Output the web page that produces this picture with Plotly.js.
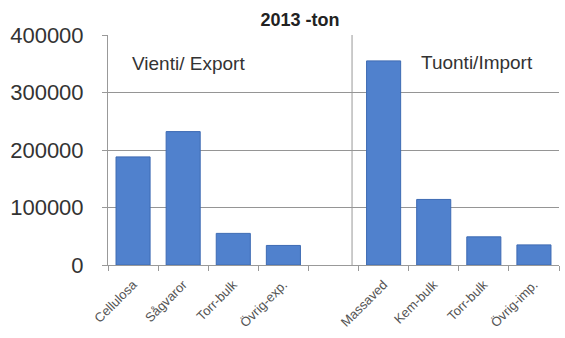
<!DOCTYPE html>
<html>
<head>
<meta charset="utf-8">
<script src="https://cdn.plot.ly/plotly-3.0.1.min.js"></script>
<style>html,body{margin:0;padding:0;background:#fff;}#chart{width:565px;height:338px;}</style>
</head>
<body>
<div id="chart"></div>
<script>
// Category ids (unique), display labels and values (tonnes, 2013)
const categories = ["Cellulosa", "Sågvaror", "Torr-bulk-exp", "Övrig-exp.", "gap", "Massaved", "Kem-bulk", "Torr-bulk-imp", "Övrig-imp."];
const tickLabels = ["Cellulosa", "Sågvaror", "Torr-bulk", "Övrig-exp.", "", "Massaved", "Kem-bulk", "Torr-bulk", "Övrig-imp."];
const tonnes = [188000, 232000, 55000, 34000, null, 355000, 114000, 49000, 35000];
const yTicks = [0, 100000, 200000, 300000, 400000];
const groupLabels = ["Vienti/ Export", "Tuonti/Import"];
const chartTitle = "2013 -ton";

const trace = {
  type: 'bar',
  x: categories,
  y: tonnes,
  marker: {color: '#5081cd', line: {color: '#3d6ab3', width: 1}},
  hoverinfo: 'x+y'
};

const layout = {
  width: 565, height: 338,
  margin: {l: 108, r: 6, t: 35, b: 73},
  paper_bgcolor: '#ffffff', plot_bgcolor: '#ffffff',
  showlegend: false,
  bargap: 0.32,
  font: {family: 'Arial, Liberation Sans, sans-serif', color: '#333'},
  title: {
    text: '<b>' + chartTitle + '</b>',
    xref: 'container', x: 300 / 565,
    yref: 'container', y: 1 - 20 / 338, yanchor: 'middle',
    font: {size: 18, color: '#222'}
  },
  xaxis: {
    type: 'category',
    tickmode: 'array', tickvals: categories, ticktext: tickLabels,
    tickangle: -45,
    tickson: 'boundaries',
    ticks: 'outside', ticklen: 5, tickcolor: '#999',
    showline: true, linecolor: '#999', linewidth: 1,
    showgrid: false,
    tickfont: {size: 13, color: '#555'},
    ticklabelstandoff: 6,
    fixedrange: true
  },
  yaxis: {
    range: [0, 400000],
    tickmode: 'array', tickvals: yTicks, ticktext: yTicks.map(String),
    ticks: 'outside', ticklen: 5, tickcolor: '#999',
    showline: true, linecolor: '#999', linewidth: 1,
    showgrid: true, gridcolor: '#959595', gridwidth: 1,
    zeroline: false,
    tickfont: {size: 22, color: '#333'},
    ticklabelstandoff: 14,
    fixedrange: true
  },
  shapes: [{
    type: 'line', xref: 'x', yref: 'paper',
    x0: 4.37, x1: 4.37, y0: 0, y1: 1,
    line: {color: '#999', width: 1}
  }],
  annotations: [
    {text: groupLabels[0], xref: 'paper', yref: 'paper', x: 0.048, y: 0.875, xanchor: 'left', yanchor: 'middle', showarrow: false, font: {size: 19, color: '#333'}},
    {text: groupLabels[1], xref: 'paper', yref: 'paper', x: 0.69, y: 0.88, xanchor: 'left', yanchor: 'middle', showarrow: false, font: {size: 19, color: '#333'}}
  ]
};

Plotly.newPlot('chart', [trace], layout, {displayModeBar: false, staticPlot: true});
</script>
</body>
</html>
